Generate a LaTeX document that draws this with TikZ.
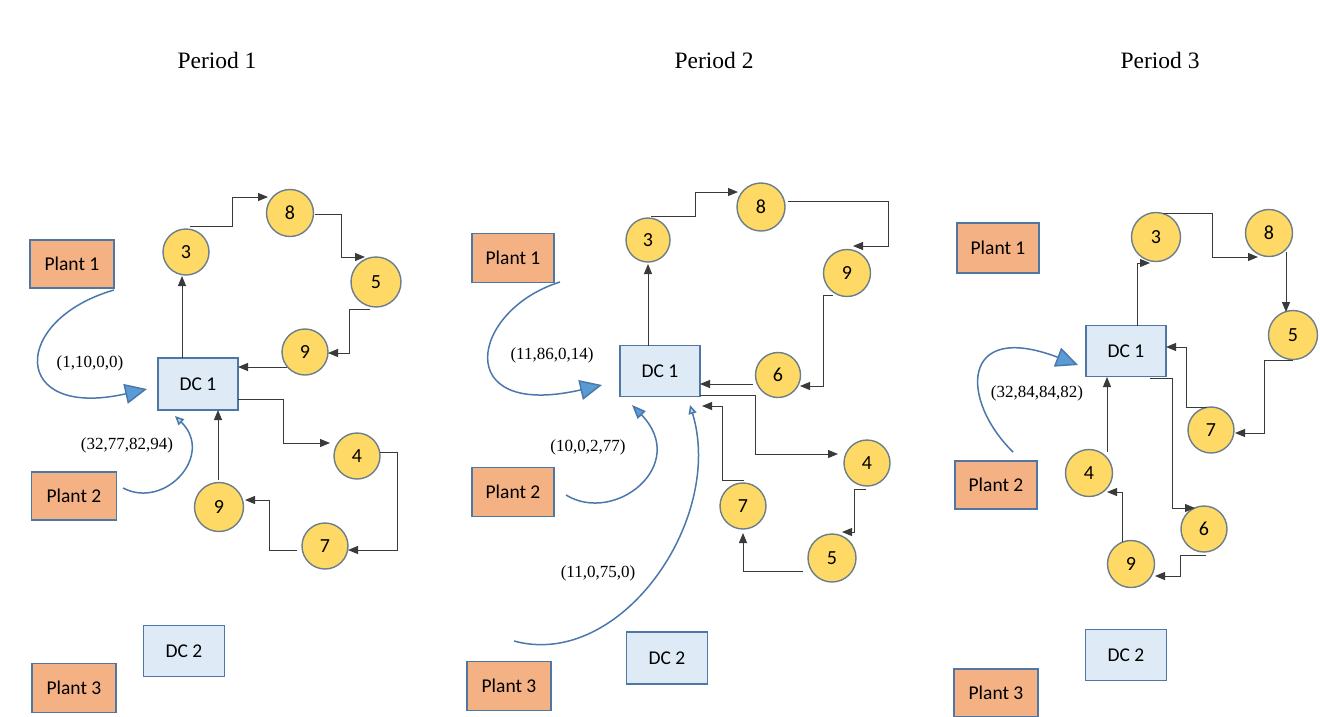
\documentclass[tikz,border=0pt]{standalone}
\usepackage{fontspec}
\setmainfont{Liberation Serif}
\newfontfamily\calfont{Carlito}
\usetikzlibrary{arrows.meta,calc}
\definecolor{plantfill}{HTML}{F4B183}
\definecolor{dcfill}{HTML}{DEEBF7}
\definecolor{boxline}{HTML}{4F77A3}
\definecolor{circfill}{HTML}{FFD966}
\definecolor{circline}{HTML}{6A7E8C}
\definecolor{curvec}{HTML}{4A78AC}
\definecolor{headc}{HTML}{5B9BD5}
\definecolor{headlight}{HTML}{BDD7EE}
\definecolor{connc}{HTML}{3A3A3A}
\tikzset{
  plant/.style={rectangle,fill=plantfill,draw=boxline,line width=1.4pt,minimum width=84pt,minimum height=48pt,inner sep=0pt,font=\calfont\fontsize{19.5}{21}\selectfont},
  dcbox/.style={rectangle,fill=dcfill,draw=boxline,line width=1.4pt,minimum width=80pt,minimum height=52pt,inner sep=0pt,font=\calfont\fontsize{19.5}{21}\selectfont},
  cust/.style={circle,fill=circfill,draw=circline,line width=1.4pt,minimum size=46pt,inner sep=0pt,font=\calfont\fontsize{20}{22}\selectfont},
  ttl/.style={font=\fontsize{23.5}{26}\selectfont},
  lbl/.style={font=\fontsize{17}{19}\selectfont},
  arr/.style={draw=connc,line width=1pt,-{Triangle[length=10pt,width=8pt]}},
  bigflow/.style={draw=curvec,line width=1.5pt,-{Triangle[length=22pt,width=20pt,fill=headc]}},
  midflow/.style={draw=curvec,line width=1.5pt,-{Triangle[length=14pt,width=11pt,fill=headc]}},
  smallflow/.style={draw=curvec,line width=1.5pt,-{Triangle[length=9pt,width=8pt,fill=headlight]}}
}
\begin{document}
\begin{tikzpicture}[x=1pt,y=-1pt]
\useasboundingbox[fill=white] (0,0) rectangle (1320,716);

% ---------------- Period 1 ----------------
\node[ttl] (t1) at (217,60) {Period 1};
\node[plant] (p1P1) at (72,264) {Plant 1};
\node[plant,minimum width=85pt] (p1P2) at (74,496) {Plant 2};
\node[plant,minimum height=49pt] (p1P3) at (74,688) {Plant 3};
\node[dcbox,minimum width=81pt,minimum height=51pt] (p1D2) at (184,651) {DC 2};
\node[dcbox] (p1D1) at (198,384) {DC 1};
\node[cust] (p1a3) at (186,252) {3};
\node[cust,minimum size=47pt] (p1a8) at (290,213) {8};
\node[cust,minimum size=50pt] (p1a5) at (376,282) {5};
\node[cust] (p1a9) at (305,352) {9};
\node[cust] (p1a4) at (357,456) {4};
\node[cust,minimum size=49pt] (p1b9) at (219,507) {9};
\node[cust] (p1a7) at (325,546) {7};

\draw[arr] ($(p1D1)+(-16,-26)$) -- ($(p1a3)+(-4,24)$);
\draw[arr] ($(p1a3)+(4,-26)$) -- (232,226) -- (232,197) -- ($(p1a8)+(-22,-16)$);
\draw[arr] ($(p1a8)+(25,1)$) -- (341,214) -- (341,257) -- ($(p1a5)+(-11,-25)$);
\draw[arr] ($(p1a5)+(-6,27)$) -- (349,309) -- (349,353) -- ($(p1a9)+(23,1)$);
\draw[arr] ($(p1a9)+(-18,15)$) -- ($(p1D1)+(40,-17)$);
\draw[arr] ($(p1D1)+(40,15)$) -- (283,399) -- (283,443) -- ($(p1a4)+(-27,-13)$);
\draw[arr] ($(p1a4)+(23,-4)$) -- (397,452) -- (397,550) -- ($(p1a7)+(23,4)$);
\draw[arr] ($(p1a7)+(-28,4)$) -- (269,550) -- (269,500) -- ($(p1b9)+(26,-7)$);
\draw[arr] ($(p1b9)+(-1,-27)$) -- ($(p1D1)+(20,26)$);

\draw[bigflow] ($(p1P1)+(42,26)$) .. controls (10,320) and (10,420) .. ($(p1D1)+(-51,5)$);
\draw[smallflow] ($(p1P2)+(49,-8)$) .. controls (165,510) and (215,455) .. ($(p1D1)+(-23,32)$);
\node[lbl] (l1a) at (90,363) {(1,10,0,0)};
\node[lbl] (l1b) at (127,445) {(32,77,82,94)};

% ---------------- Period 2 ----------------
\node[ttl] (t2) at (714,60) {Period 2};
\node[plant,minimum width=82pt,minimum height=49pt] (p2P1) at (513,258) {Plant 1};
\node[plant,minimum width=82pt,minimum height=49pt] (p2P2) at (513,492) {Plant 2};
\node[plant,minimum height=49pt] (p2P3) at (509,686) {Plant 3};
\node[dcbox,minimum width=81pt] (p2D2) at (667,658) {DC 2};
\node[dcbox,minimum height=51pt] (p2D1) at (660,371) {DC 1};
\node[cust,minimum size=44pt] (p2q3) at (648,240) {3};
\node[cust,minimum size=48pt] (p2q8) at (761,207) {8};
\node[cust,minimum size=47pt] (p2q9) at (847,273) {9};
\node[cust,minimum size=45pt] (p2q6) at (778,375) {6};
\node[cust] (p2q4) at (867,463) {4};
\node[cust,minimum size=48pt] (p2q5) at (832,558) {5};
\node[cust] (p2q7) at (743,506) {7};

\draw[arr] ($(p2D1)+(-12,-25)$) -- ($(p2q3)+(0,24)$);
\draw[arr] ($(p2q3)+(3,-24)$) -- (695,216) -- (695,192) -- ($(p2q8)+(-23,-15)$);
\draw[arr] ($(p2q8)+(27,-6)$) -- (888,201) -- (888,246) -- ($(p2q9)+(6,-27)$);
\draw[arr] ($(p2q9)+(-14,22)$) -- (823,295) -- (823,386) -- ($(p2q6)+(22,11)$);
\draw[arr] ($(p2q6)+(-25,9)$) -- ($(p2D1)+(40,13)$);
\draw[arr] ($(p2D1)+(40,24)$) -- (755,395) -- (755,454) -- ($(p2q4)+(-29,-9)$);
\draw[arr] ($(p2q4)+(-1,26)$) -- (854,489) -- (854,532) -- ($(p2q5)+(10,-26)$);
\draw[arr] ($(p2q5)+(-29,13)$) -- (743,571) -- ($(p2q7)+(0,27)$);
\draw[arr] ($(p2q7)+(1,-26)$) -- (722,480) -- (722,406) -- ($(p2D1)+(42,35)$);

\draw[bigflow] ($(p2P1)+(47,24)$) .. controls (470,310) and (450,420) .. ($(p2D1)+(-58,14)$);
\draw[midflow] ($(p2P2)+(53,3)$) .. controls (615,525) and (690,465) .. ($(p2D1)+(-28,34)$);
\draw[smallflow] ($(p2P3)+(5,-45)$) .. controls (620,670) and (725,520) .. ($(p2D1)+(30,34)$);
\node[lbl] (l2a) at (552,355) {(11,86,0,14)};
\node[lbl] (l2b) at (588,447) {(10,0,2,77)};
\node[lbl] (l2c) at (598,573) {(11,0,75,0)};

% ---------------- Period 3 ----------------
\node[ttl] (t3) at (1160,60) {Period 3};
\node[plant,minimum width=82pt,minimum height=50pt] (p3P1) at (998,248) {Plant 1};
\node[plant,minimum width=82pt] (p3P2) at (996,485) {Plant 2};
\node[plant,minimum height=48pt] (p3P3) at (996,693) {Plant 3};
\node[dcbox,minimum width=81pt,minimum height=51pt] (p3D2) at (1126,655) {DC 2};
\node[dcbox,minimum height=51pt] (p3D1) at (1126,351) {DC 1};
\node[cust,minimum size=49pt] (p3r3) at (1156,237) {3};
\node[cust,minimum size=47pt] (p3r8) at (1269,233) {8};
\node[cust,minimum size=49pt] (p3r5) at (1293,335) {5};
\node[cust] (p3r7) at (1211,430) {7};
\node[cust,minimum size=47pt] (p3r4) at (1089,473) {4};
\node[cust] (p3r6) at (1204,529) {6};
\node[cust,minimum size=47pt] (p3r9) at (1131,564) {9};

\draw[arr] ($(p3D1)+(11,-25)$) -- (1137,263) -- ($(p3r3)+(-6,26)$);
\draw[arr] ($(p3r3)+(7,-24)$) -- (1212,213) -- (1212,257) -- ($(p3r8)+(-11,24)$);
\draw[arr] ($(p3r8)+(17,19)$) -- ($(p3r5)+(-7,-23)$);
\draw[arr] ($(p3r5)+(0,25)$) -- (1264,360) -- (1264,433) -- ($(p3r7)+(24,3)$);
\draw[arr] ($(p3r7)+(-4,-23)$) -- (1186,407) -- (1186,347) -- ($(p3D1)+(40,-4)$);
\draw[arr] ($(p3D1)+(24,27)$) -- (1172,378) -- (1172,508) -- ($(p3r6)+(-9,-21)$);
\draw[arr] ($(p3r6)+(2,26)$) -- (1180,555) -- (1180,576) -- ($(p3r9)+(24,12)$);
\draw[arr] ($(p3r9)+(-9,-22)$) -- (1122,492) -- ($(p3r4)+(18,19)$);
\draw[arr] ($(p3r4)+(18,-21)$) -- ($(p3D1)+(-19,26)$);

\draw[bigflow] ($(p3P2)+(17,-33)$) .. controls (960,400) and (960,320) .. ($(p3D1)+(-48,14)$);
\node[lbl] (l3a) at (1037,393) {(32,84,84,82)};
\end{tikzpicture}
\end{document}
